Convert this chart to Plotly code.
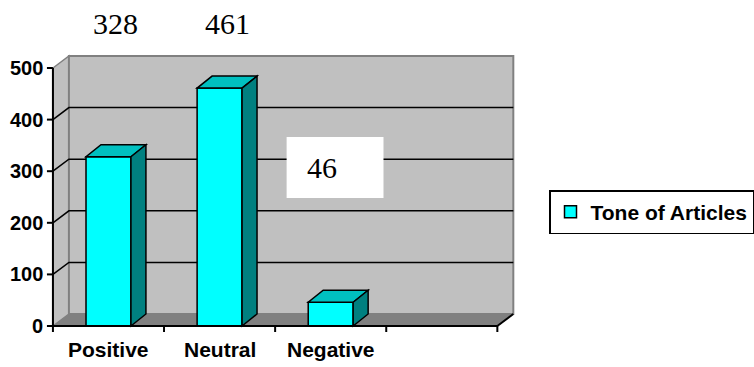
import plotly.graph_objects as go

# ---- data ----
CATEGORIES = ["Positive", "Neutral", "Negative"]
VALUES = [328, 461, 46]
SERIES_NAME = "Tone of Articles"
Y_TICKS = [0, 100, 200, 300, 400, 500]
N_SLOTS = 4  # category slots on the floor (last one empty)

# ---- layout constants (pixels) ----
W, H = 754, 367
AXIS_LEFT_PX = 53      # front y-axis line
AXIS_ZERO_PX = 326     # front x-axis line
AXIS_TOP_PX = 68       # pixel row of 500
SLOT_PX = 111.25       # width of one category slot
WALL_DX_PX, WALL_DY_PX = 16, 12
BAR_DX_PX, BAR_DY_PX = 15, 12
BAR_W_PX = 45

PX_PER_UNIT = (AXIS_ZERO_PX - AXIS_TOP_PX) / 500.0
X0 = -0.5 - AXIS_LEFT_PX / SLOT_PX
X1 = X0 + W / SLOT_PX
Y1 = AXIS_ZERO_PX / PX_PER_UNIT
Y0 = Y1 - H / PX_PER_UNIT


def dx(px):
    return px / SLOT_PX


def dy(px):
    return px / PX_PER_UNIT


def xp(px):
    return X0 + px / SLOT_PX


def yp(py):
    return Y1 - py / PX_PER_UNIT


XL, XR = -0.5, N_SLOTS - 0.5
WDX, WDY = dx(WALL_DX_PX), dy(WALL_DY_PX)
BDX, BDY = dx(BAR_DX_PX), dy(BAR_DY_PX)
BAR_W = dx(BAR_W_PX)
YMAX = Y_TICKS[-1]

WALL = "#C0C0C0"
WALL_EDGE = "#808080"
FLOOR = "#808080"
FRONT = "#00FFFF"
TOP = "#00C0C0"
SIDE = "#008080"


def poly(pts):
    return "M " + " L ".join(f"{x},{y}" for x, y in pts) + " Z"


shapes = []
# floor
shapes.append(dict(type="path", layer="below", xref="x", yref="y",
                   path=poly([(XL, 0), (XR, 0), (XR + WDX, WDY), (XL + WDX, WDY)]),
                   fillcolor=FLOOR, line=dict(color=FLOOR, width=1)))
# left side wall
shapes.append(dict(type="path", layer="below", xref="x", yref="y",
                   path=poly([(XL, 0), (XL + WDX, WDY), (XL + WDX, YMAX + WDY), (XL, YMAX)]),
                   fillcolor=WALL, line=dict(color=WALL_EDGE, width=1.5)))
# back wall
shapes.append(dict(type="rect", layer="below", xref="x", yref="y",
                   x0=XL + WDX, x1=XR + WDX, y0=WDY, y1=YMAX + WDY,
                   fillcolor=WALL, line=dict(color=WALL_EDGE, width=2)))
# gridlines across the left and back walls
for v in Y_TICKS[1:-1]:
    shapes.append(dict(type="path", layer="below", xref="x", yref="y",
                       path=f"M {XL},{v} L {XL + WDX},{v + WDY} L {XR + WDX},{v + WDY}",
                       line=dict(color="black", width=1.5)))

# bar top and side faces
for i, v in enumerate(VALUES):
    x0, x1 = i - BAR_W / 2, i + BAR_W / 2
    shapes.append(dict(type="path", layer="above", xref="x", yref="y",
                       path=poly([(x0, v), (x1, v), (x1 + BDX, v + BDY), (x0 + BDX, v + BDY)]),
                       fillcolor=TOP, line=dict(color="black", width=1.5)))
    shapes.append(dict(type="path", layer="above", xref="x", yref="y",
                       path=poly([(x1, 0), (x1 + BDX, BDY), (x1 + BDX, v + BDY), (x1, v)]),
                       fillcolor=SIDE, line=dict(color="black", width=1.5)))

# front axes
shapes.append(dict(type="line", layer="above", xref="x", yref="y",
                   x0=XL, x1=XL, y0=0, y1=YMAX, line=dict(color="black", width=2)))
shapes.append(dict(type="line", layer="above", xref="x", yref="y",
                   x0=XL, x1=XR, y0=0, y1=0, line=dict(color="black", width=2)))
shapes.append(dict(type="line", layer="above", xref="x", yref="y",
                   x0=XR, x1=XR + WDX, y0=0, y1=WDY, line=dict(color="black", width=2)))
for v in Y_TICKS:
    shapes.append(dict(type="line", layer="above", xref="x", yref="y",
                       x0=XL - dx(6), x1=XL, y0=v, y1=v, line=dict(color="black", width=2)))
for k in range(N_SLOTS + 1):
    xb = XL + k
    shapes.append(dict(type="line", layer="above", xref="x", yref="y",
                       x0=xb, x1=xb, y0=0, y1=-dy(6), line=dict(color="black", width=2)))

# white box behind the Negative value label
shapes.append(dict(type="rect", layer="above", xref="x", yref="y",
                   x0=xp(287), x1=xp(384), y0=yp(198), y1=yp(137),
                   fillcolor="white", line=dict(width=0)))

annotations = []
tick_font = dict(family="Liberation Sans", size=20, color="black", weight=700)
cat_font = dict(family="Liberation Sans", size=21, color="black", weight=700)
for v in Y_TICKS:
    annotations.append(dict(x=XL - dx(8), y=v, xref="x", yref="y", text=str(v),
                            showarrow=False, xanchor="right", yanchor="middle",
                            font=tick_font))
for i, c in enumerate(CATEGORIES):
    annotations.append(dict(x=i, y=yp(349), xref="x", yref="y", text=c,
                            showarrow=False, xanchor="center", yanchor="middle",
                            font=cat_font))

label_font = dict(family="Liberation Serif", size=30, color="black")
for i, v in enumerate(VALUES[:2]):
    annotations.append(dict(x=i + BDX / 2, y=yp(23), xref="x", yref="y", text=str(v),
                            showarrow=False, xanchor="center", yanchor="middle",
                            font=label_font))
annotations.append(dict(x=xp(322.5), y=yp(167), xref="x", yref="y", text=str(VALUES[2]),
                        showarrow=False, xanchor="center", yanchor="middle",
                        font=label_font))

fig = go.Figure()
fig.add_trace(go.Bar(
    x=list(range(len(CATEGORIES))), y=VALUES, width=BAR_W, name=SERIES_NAME,
    marker=dict(color=FRONT, line=dict(color="black", width=1.5)),
    showlegend=True, cliponaxis=False, hoverinfo="skip",
))

fig.update_layout(
    width=W, height=H,
    margin=dict(l=0, r=0, t=0, b=0),
    paper_bgcolor="white", plot_bgcolor="white",
    xaxis=dict(range=[X0, X1], visible=False, fixedrange=True),
    yaxis=dict(range=[Y0, Y1], visible=False, fixedrange=True),
    shapes=shapes,
    annotations=annotations,
    showlegend=True,
    legend=dict(x=550 / W, y=1 - 190 / H, xanchor="left", yanchor="top",
                bgcolor="white", bordercolor="black", borderwidth=1.5,
                font=dict(family="Liberation Sans", size=21, color="black", weight=700),
                itemwidth=30, tracegroupgap=0),
)

fig.write_html("out.html")
